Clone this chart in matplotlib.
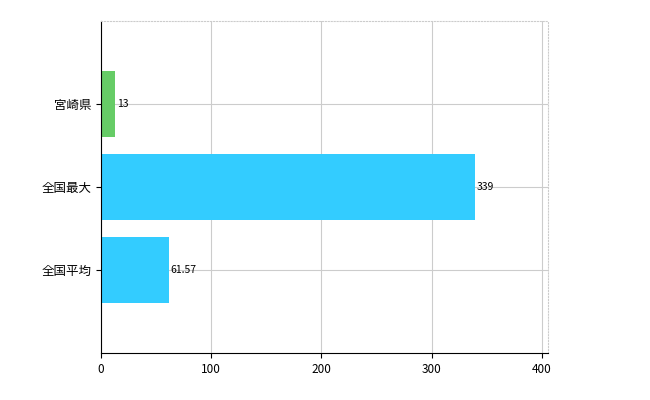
import matplotlib
matplotlib.use("Agg")
import matplotlib.pyplot as plt

categories = ["全国平均", "全国最大", "宮崎県"]
values = [61.57, 339, 13]
labels = ["61.57", "339", "13"]
colors = ["#33CCFF", "#33CCFF", "#66CC66"]
xticks = [0, 100, 200, 300, 400]

plt.rcParams['font.family'] = ['Noto Sans CJK JP', 'DejaVu Sans']
fig = plt.figure(figsize=(6.5, 4.0), dpi=100)
ax = fig.add_axes([101/650, 1-353/400, (548-101)/650, (353-21)/400])
ypos = list(range(len(categories)))
ax.barh(ypos, values, height=0.8, color=colors, zorder=2)
for y, v, l in zip(ypos, values, labels):
    ax.text(v + 1.5, y, l, va='center', ha='left', fontsize=7.5, zorder=3)
ax.set_xlim(0, 405.5)
ax.set_ylim(-1, 3)
ax.set_xticks(xticks)
ax.set_yticks(ypos)
ax.set_yticklabels(categories, fontsize=9)
ax.tick_params(axis='x', labelsize=8.5)
ax.grid(True, color='#cccccc', linewidth=0.8, zorder=0)
for s in ['top', 'right']:
    ax.spines[s].set_color('#cccccc')
    ax.spines[s].set_linestyle(':')
ax.spines['left'].set_color('black')
ax.spines['bottom'].set_color('black')
fig.savefig("out.png", dpi=100)
